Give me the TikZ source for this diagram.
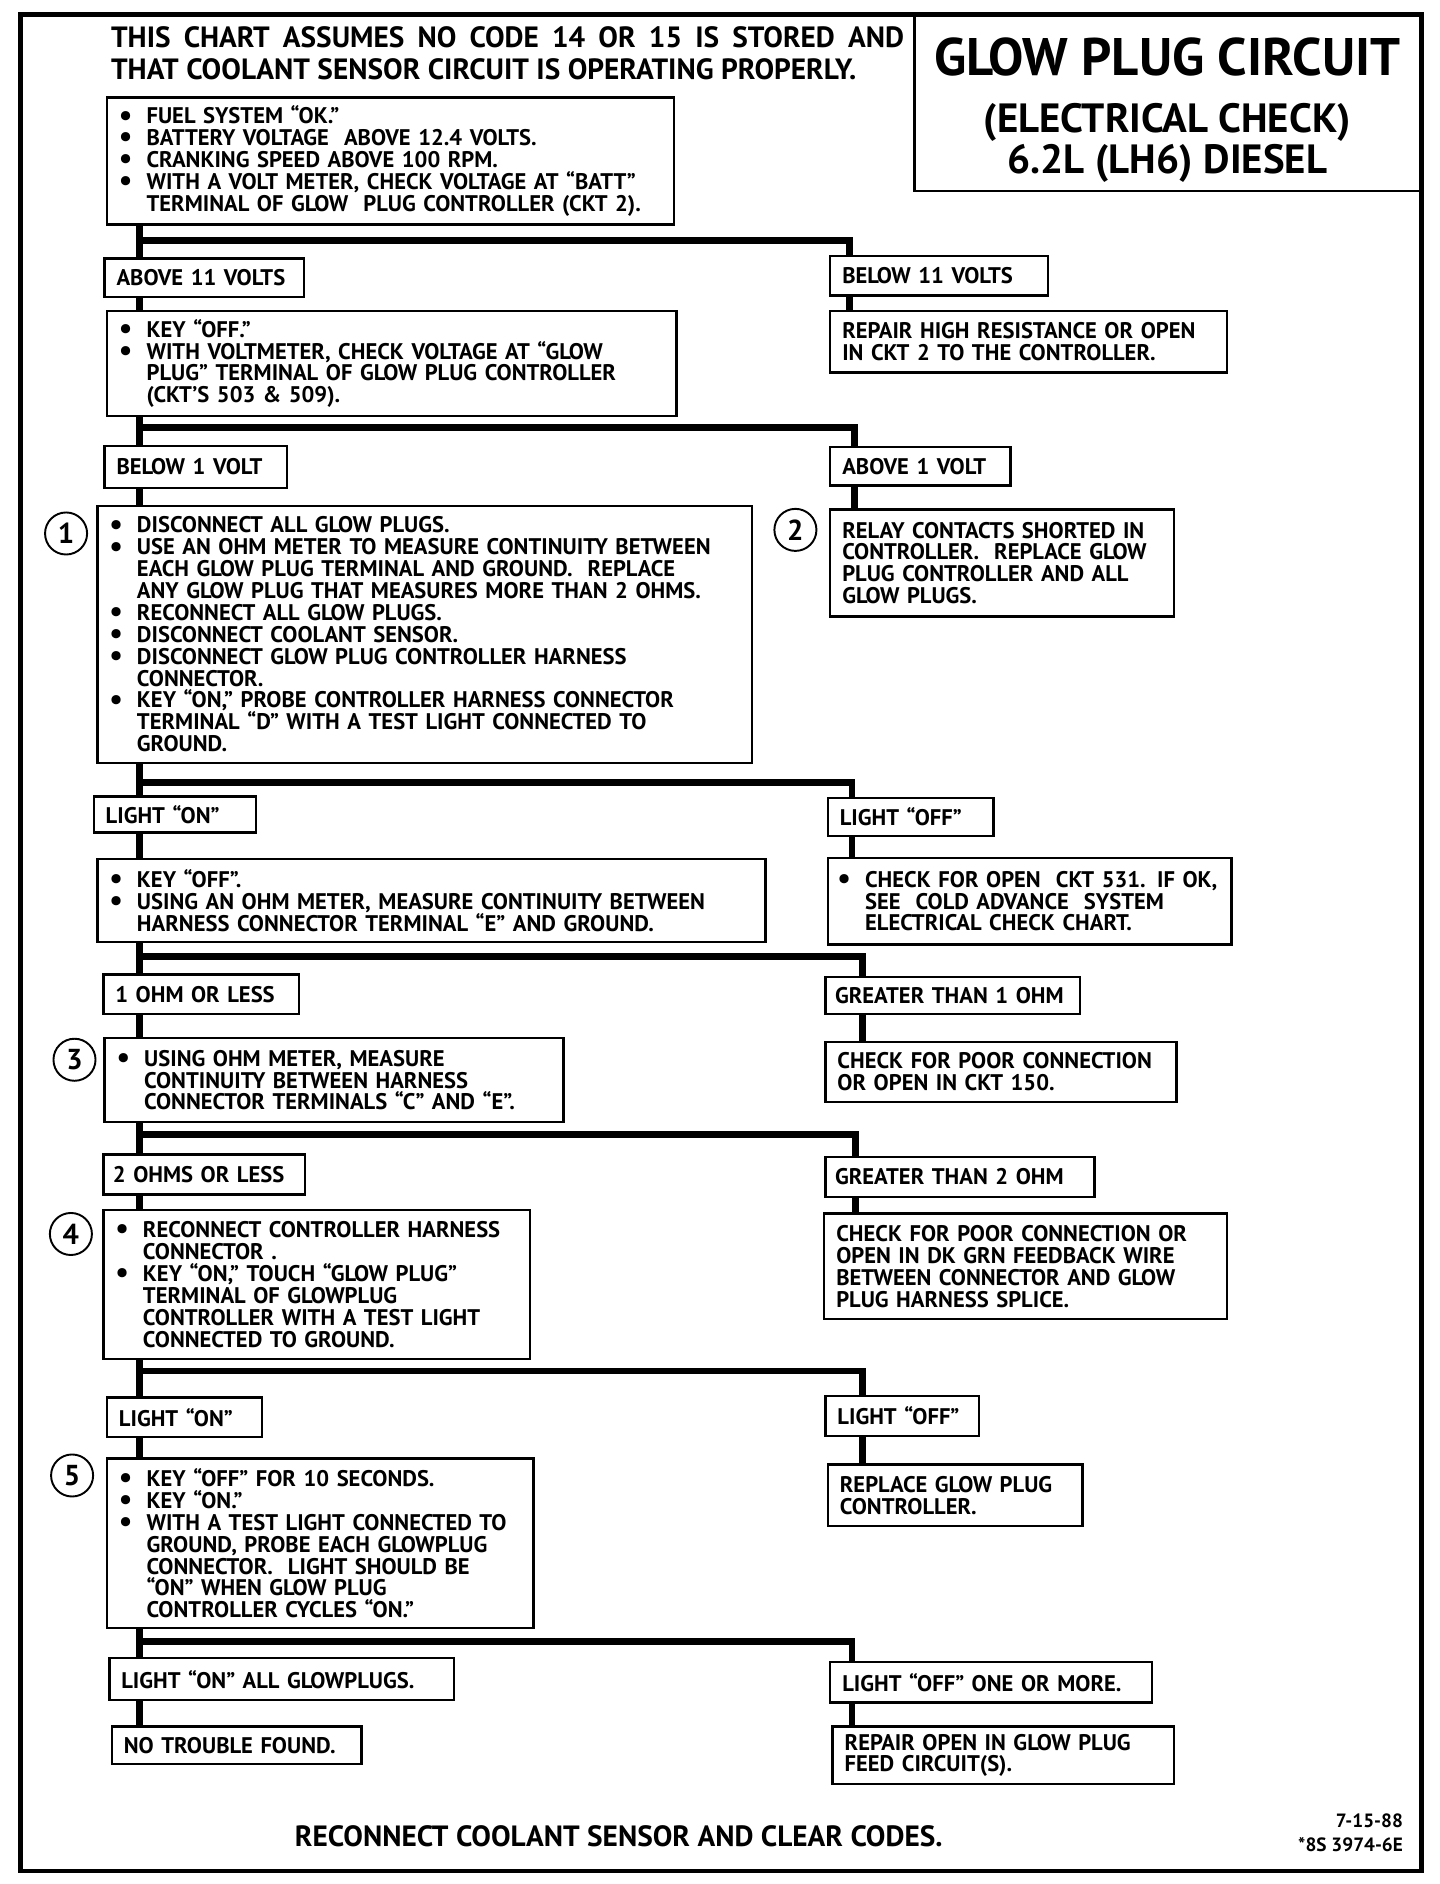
\documentclass[tikz,border=0pt]{standalone}
\usepackage{fontspec}
\setmainfont{PT Sans}
\usetikzlibrary{positioning,calc}
\newcommand{\bul}{\makebox[11.5pt][l]{\raisebox{-0.5pt}{\fontsize{12.5}{9}\selectfont\textbullet}}}
\newcommand{\ind}{\hspace*{11.5pt}}

\begin{document}
\begin{tikzpicture}[
    x=0.5pt, y=-0.5pt,
    font=\bfseries\fontsize{9.4}{9.1}\selectfont,
    box/.style={draw, line width=1pt, anchor=north west, align=left,
                inner xsep=5pt, inner ysep=2pt},
    num/.style={circle, draw, line width=0.8pt, minimum size=17.5pt,
                inner sep=0pt, font=\bfseries\fontsize{12}{12}\selectfont},
    flow/.style={line width=2.8pt}
  ]
  \useasboundingbox (0,0) rectangle (1198,1568);

  % Frame, header and title block.
  \draw[line width=1.8pt] (17,12) rectangle (1183,1557);
  \node[anchor=north west, align=left, inner sep=0pt,
        font=\bfseries\fontsize{12.2}{13}\selectfont] (hdr) at (92,22)
    {\makebox[330pt][s]{THIS CHART ASSUMES NO CODE 14 OR 15 IS STORED AND}\\
     THAT COOLANT SENSOR CIRCUIT IS OPERATING PROPERLY.};
  \node[draw, line width=1pt, anchor=north east, align=center,
        minimum width=210.5pt, minimum height=73pt] (title) at (1183,12)
    {{\fontsize{22}{22}\selectfont\rule{0pt}{21pt}GLOW PLUG CIRCUIT}\\[10.5pt]
     {\fontsize{17}{17}\selectfont (ELECTRICAL CHECK)}\\
     {\fontsize{17}{17}\selectfont 6.2L\hspace{4.5pt}(LH6)\hspace{4.5pt}DIESEL}};

  % Battery check.
  \node[box, text width=226pt, minimum height=53pt] (start) at (88,80)
    {\bul FUEL SYSTEM “OK.”\\
     \bul BATTERY VOLTAGE\ \ ABOVE 12.4 VOLTS.\\
     \bul CRANKING SPEED ABOVE 100 RPM.\\
     \bul WITH A VOLT METER, CHECK VOLTAGE AT “BATT”\\
     \ind TERMINAL OF GLOW\ \ PLUG CONTROLLER (CKT 2).};
  \node[box, text width=73pt, minimum height=16pt] (abv11) at (86,214)
    {ABOVE 11 VOLTS};
  \node[box, text width=80.5pt, minimum height=16.5pt] (blw11) at (690,212)
    {BELOW 11 VOLTS};
  \node[box, text width=227pt, minimum height=43.5pt] (glowv) at (88,258)
    {\bul KEY “OFF.”\\
     \bul WITH VOLTMETER, CHECK VOLTAGE AT “GLOW\\
     \ind PLUG” TERMINAL OF GLOW PLUG CONTROLLER\\
     \ind (CKT’S 503 \& 509).};
  \node[box, text width=155pt, minimum height=25.5pt] (rep2) at (690,258)
    {REPAIR HIGH RESISTANCE OR OPEN\\
     IN CKT 2 TO THE CONTROLLER.};

  % Glow plug voltage.
  \node[box, text width=66pt, minimum height=17.5pt] (blw1) at (86,370)
    {BELOW 1 VOLT};
  \node[box, text width=65pt, minimum height=16pt] (abv1) at (690,371)
    {ABOVE 1 VOLT};
  \node[box, text width=262.5pt, minimum height=107pt] (disc) at (80,420)
    {\bul DISCONNECT ALL GLOW PLUGS.\\
     \bul USE AN OHM METER TO MEASURE CONTINUITY BETWEEN\\
     \ind EACH GLOW PLUG TERMINAL AND GROUND.\ \ REPLACE\\
     \ind ANY GLOW PLUG THAT MEASURES MORE THAN 2 OHMS.\\
     \bul RECONNECT ALL GLOW PLUGS.\\
     \bul DISCONNECT COOLANT SENSOR.\\
     \bul DISCONNECT GLOW PLUG CONTROLLER HARNESS\\
     \ind CONNECTOR.\\
     \bul KEY “ON,” PROBE CONTROLLER HARNESS CONNECTOR\\
     \ind TERMINAL “D” WITH A TEST LIGHT CONNECTED TO\\
     \ind GROUND.};
  \node[box, text width=133pt, minimum height=44.5pt] (relay) at (690,423)
    {RELAY CONTACTS SHORTED IN\\
     CONTROLLER.\ \ REPLACE GLOW\\
     PLUG CONTROLLER AND ALL\\
     GLOW PLUGS.};
  \node[num] (n1) at (55,444) {1};
  \node[num] (n2) at (662,441) {2};

  % Test light on terminal D.
  \node[box, text width=57.5pt, minimum height=15pt] (lon1) at (77,662)
    {LIGHT “ON”};
  \node[box, text width=59pt, minimum height=16pt] (loff1) at (688,663)
    {LIGHT “OFF”};
  \node[box, text width=268pt, minimum height=34.5pt] (ohmE) at (80,714)
    {\bul KEY “OFF”.\\
     \bul USING AN OHM METER, MEASURE CONTINUITY BETWEEN\\
     \ind HARNESS CONNECTOR TERMINAL “E” AND GROUND.};
  \node[box, inner xsep=4pt, text width=160pt, minimum height=36pt] (ckt531)
    at (688,713)
    {\bul CHECK FOR OPEN\ \ CKT 531. IF OK,\\
     \ind SEE\ \ COLD ADVANCE\ \ SYSTEM\\
     \ind ELECTRICAL CHECK CHART.};

  % Resistance to ground.
  \node[box, text width=71.5pt, minimum height=16.5pt] (ohm1) at (85,810)
    {1 OHM OR LESS};
  \node[box, inner xsep=4pt, text width=98pt, minimum height=15.5pt] (gt1)
    at (686,812) {GREATER THAN 1 OHM};
  \node[box, text width=181pt, minimum height=35pt] (ohmCE) at (86,863)
    {\bul USING OHM METER, MEASURE\\
     \ind CONTINUITY BETWEEN HARNESS\\
     \ind CONNECTOR TERMINALS “C” AND “E”.};
  \node[box, text width=136pt, minimum height=25pt] (ckt150) at (686,866)
    {CHECK FOR POOR CONNECTION\\
     OR OPEN IN CKT 150.};
  \node[num] (n3) at (62,882) {3};

  % Resistance C to E.
  \node[box, inner xsep=4pt, text width=76pt, minimum height=16.5pt] (ohm2)
    at (85,960) {2 OHMS OR LESS};
  \node[box, inner xsep=4pt, text width=104pt, minimum height=16.5pt] (gt2)
    at (686,962) {GREATER THAN 2 OHM};
  \node[box, text width=167.5pt, minimum height=62pt] (touch) at (85,1006)
    {\bul RECONNECT CONTROLLER HARNESS\\
     \ind CONNECTOR .\\
     \bul KEY “ON,” TOUCH “GLOW PLUG”\\
     \ind TERMINAL OF GLOWPLUG\\
     \ind CONTROLLER WITH A TEST LIGHT\\
     \ind CONNECTED TO GROUND.};
  \node[box, text width=157.5pt, minimum height=44pt] (dkgrn) at (685,1009)
    {CHECK FOR POOR CONNECTION OR\\
     OPEN IN DK GRN FEEDBACK WIRE\\
     BETWEEN CONNECTOR AND GLOW\\
     PLUG HARNESS SPLICE.};
  \node[num] (n4) at (59,1027) {4};

  % Test light on glow plug terminal.
  \node[box, text width=54.5pt, minimum height=16.5pt] (lon2) at (88,1162)
    {LIGHT “ON”};
  \node[box, text width=54pt, minimum height=16.5pt] (loff2) at (686,1161)
    {LIGHT “OFF”};
  \node[box, text width=167.5pt, minimum height=70.5pt] (probe) at (88,1213)
    {\bul KEY “OFF” FOR 10 SECONDS.\\
     \bul KEY “ON.”\\
     \bul WITH A TEST LIGHT CONNECTED TO\\
     \ind GROUND, PROBE EACH GLOWPLUG\\
     \ind CONNECTOR.\ \ LIGHT SHOULD BE\\
     \ind “ON” WHEN GLOW PLUG\\
     \ind CONTROLLER CYCLES “ON.”};
  \node[box, text width=96pt, minimum height=25.5pt] (repctl) at (688,1218)
    {REPLACE GLOW PLUG\\
     CONTROLLER.};
  \node[num] (n5) at (60,1228) {5};

  % Final outcomes.
  \node[box, text width=133.5pt, minimum height=17.5pt] (lonall) at (90,1379)
    {LIGHT “ON” ALL GLOWPLUGS.};
  \node[box, text width=124pt, minimum height=17pt] (loffone) at (690,1382)
    {LIGHT “OFF” ONE OR MORE.};
  \node[box, text width=94pt, minimum height=15.5pt] (ntf) at (92,1436)
    {NO TROUBLE FOUND.};
  \node[box, text width=132pt, minimum height=24pt] (repfeed) at (692,1436)
    {REPAIR OPEN IN GLOW PLUG\\
     FEED CIRCUIT(S).};

  % Footer.
  \node[font=\bfseries\fontsize{12.2}{13}\selectfont] (foot) at (515,1528)
    {RECONNECT COOLANT SENSOR AND CLEAR CODES.};
  \node[anchor=east, align=right, inner sep=0pt,
        font=\bfseries\fontsize{8}{10}\selectfont] (code) at (1168,1525)
    {7-15-88\\*8S 3974-6E};

  % Trunk and branch points.
  \coordinate (tx) at (116,0);
  \coordinate (j1) at (707,200);
  \coordinate (j2) at (711,356);
  \coordinate (j3) at (709,651);
  \coordinate (j4) at (718,796);
  \coordinate (j5) at (712,944);
  \coordinate (j6) at (718,1141);
  \coordinate (j7) at (709,1366);

  % Left trunk.
  \draw[flow] (start.south -| tx) -- (abv11.north -| tx);
  \draw[flow] (abv11.south -| tx) -- (glowv.north -| tx);
  \draw[flow] (glowv.south -| tx) -- (blw1.north -| tx);
  \draw[flow] (blw1.south -| tx) -- (disc.north -| tx);
  \draw[flow] (disc.south -| tx) -- (lon1.north -| tx);
  \draw[flow] (lon1.south -| tx) -- (ohmE.north -| tx);
  \draw[flow] (ohmE.south -| tx) -- (ohm1.north -| tx);
  \draw[flow] (ohm1.south -| tx) -- (ohmCE.north -| tx);
  \draw[flow] (ohmCE.south -| tx) -- (ohm2.north -| tx);
  \draw[flow] (ohm2.south -| tx) -- (touch.north -| tx);
  \draw[flow] (touch.south -| tx) -- (lon2.north -| tx);
  \draw[flow] (lon2.south -| tx) -- (probe.north -| tx);
  \draw[flow] (probe.south -| tx) -- (lonall.north -| tx);
  \draw[flow] (lonall.south -| tx) -- (ntf.north -| tx);

  % Right branches.
  \draw[flow] (start.south -| tx) |- (j1) -- (blw11.north -| j1);
  \draw[flow] (blw11.south -| j1) -- (rep2.north -| j1);
  \draw[flow] (glowv.south -| tx) |- (j2) -- (abv1.north -| j2);
  \draw[flow] (abv1.south -| j2) -- (relay.north -| j2);
  \draw[flow] (disc.south -| tx) |- (j3) -- (loff1.north -| j3);
  \draw[flow] (loff1.south -| j3) -- (ckt531.north -| j3);
  \draw[flow] (ohmE.south -| tx) |- (j4) -- (gt1.north -| j4);
  \draw[flow] (gt1.south -| j4) -- (ckt150.north -| j4);
  \draw[flow] (ohmCE.south -| tx) |- (j5) -- (gt2.north -| j5);
  \draw[flow] (gt2.south -| j5) -- (dkgrn.north -| j5);
  \draw[flow] (touch.south -| tx) |- (j6) -- (loff2.north -| j6);
  \draw[flow] (loff2.south -| j6) -- (repctl.north -| j6);
  \draw[flow] (probe.south -| tx) |- (j7) -- (loffone.north -| j7);
  \draw[flow] (loffone.south -| j7) -- (repfeed.north -| j7);

\end{tikzpicture}
\end{document}
